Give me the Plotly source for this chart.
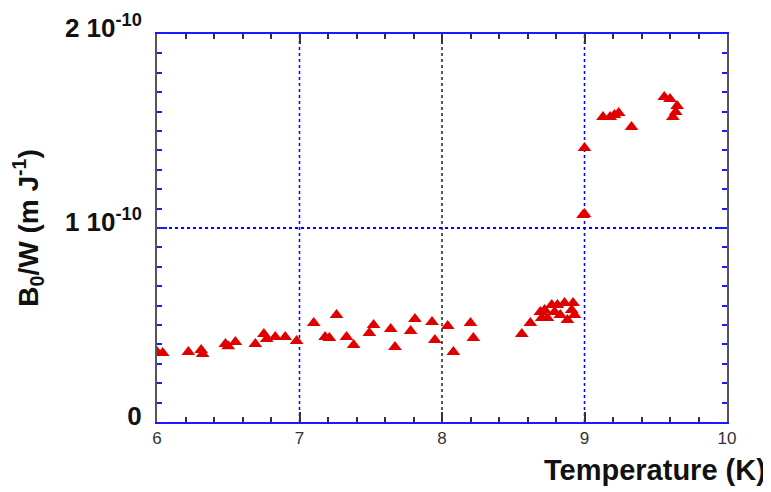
import plotly.graph_objects as go

# Data (temperature in K, B0/W in m J^-1)
temperature = [6.00, 6.04, 6.22, 6.31, 6.32, 6.48, 6.50, 6.55, 6.69, 6.75, 6.77, 6.83, 6.90, 6.98,
               7.10, 7.26, 7.18, 7.21, 7.33, 7.38, 7.52, 7.49, 7.64, 7.67, 7.81, 7.78, 7.93, 7.95,
               8.04, 8.08, 8.20, 8.22, 8.56, 8.62,
               8.69, 8.70, 8.72, 8.74, 8.77, 8.79, 8.81, 8.83, 8.86, 8.88, 8.91, 8.92, 8.93,
               9.00, 8.99, 9.00, 9.13, 9.18, 9.21, 9.24, 9.33, 9.56, 9.60, 9.65, 9.64, 9.62]
b0_over_w_e10 = [0.361, 0.356, 0.361, 0.371, 0.351, 0.402, 0.390, 0.412, 0.402, 0.454, 0.428, 0.438, 0.438, 0.418,
                 0.510, 0.552, 0.438, 0.433, 0.438, 0.397, 0.500, 0.459, 0.479, 0.387, 0.531, 0.469, 0.515, 0.423,
                 0.495, 0.361, 0.510, 0.433, 0.454, 0.510,
                 0.567, 0.536, 0.577, 0.536, 0.603, 0.567, 0.603, 0.552, 0.613, 0.526, 0.577, 0.613, 0.552,
                 1.412, 1.067, 1.072, 1.572, 1.572, 1.582, 1.593, 1.521, 1.675, 1.665, 1.629, 1.598, 1.572]
b0_over_w = [v * 1e-10 for v in b0_over_w_e10]

x_ticks = [6, 7, 8, 9, 10]
x_ticktext = ["6", "7", "8", "9", "10"]
y_ticks = [0, 1e-10, 2e-10]
y_ticktext = ["0", "1 10<sup>-10</sup>", "2 10<sup>-10</sup>"]
blue_grid_x = [7, 9]
black_grid_x = 8

fig = go.Figure()
fig.add_trace(go.Scatter(
    x=temperature, y=b0_over_w, mode="markers",
    marker=dict(symbol="triangle-up", size=12, color="#e00000", line=dict(width=0)),
    showlegend=False,
))

for gx in blue_grid_x:
    fig.add_shape(type="line", xref="x", yref="paper", x0=gx, x1=gx, y0=0, y1=1,
                  line=dict(color="#0000ff", width=1.5, dash="dot"), layer="below")
fig.add_shape(type="line", xref="x", yref="paper", x0=black_grid_x, x1=black_grid_x, y0=0, y1=1,
              line=dict(color="#222222", width=1.5, dash="dot"), layer="below")

fig.update_layout(
    width=763, height=484,
    margin=dict(l=149, r=44, t=26, b=70),
    paper_bgcolor="white", plot_bgcolor="white",
    font=dict(family="Liberation Sans, Arial, sans-serif"),
    xaxis=dict(
        range=[6, 10], tickvals=x_ticks, ticktext=x_ticktext, automargin=False,
        showgrid=False,
        showline=True, linecolor="#1a1aff", linewidth=2, mirror="ticks",
        ticks="inside", ticklen=10, tickcolor="#333333", tickwidth=1.5,
        minor=dict(dtick=0.2, ticks="inside", ticklen=5, tickcolor="#333333", tickwidth=1.5, showgrid=False),
        tickfont=dict(size=17, color="#333333"),
        zeroline=False,
    ),
    yaxis=dict(
        range=[0, 2e-10], tickvals=y_ticks, ticktext=y_ticktext, automargin=False,
        showgrid=True, gridcolor="#0000ff", griddash="dot", gridwidth=1.5,
        showline=True, linecolor="#555555", linewidth=2, mirror="ticks",
        ticks="inside", ticklen=10, tickcolor="#1a1aff", tickwidth=1.5,
        minor=dict(dtick=1e-11, ticks="inside", ticklen=5, tickcolor="#1a1aff", tickwidth=1.5, showgrid=False),
        tickfont=dict(size=26, color="#111111", family="Liberation Sans, Arial, sans-serif", weight="bold"),
        ticklabelstandoff=8, ticklabelshift=-6,
        zeroline=False,
        title=dict(text="<b>B<sub>0</sub>/W (m J<sup>-1</sup>)</b>", font=dict(size=28, color="#111111"), standoff=18),
    ),
    annotations=[dict(
        text="<b>Temperature (K)</b>", xref="paper", yref="paper", x=1.072, y=-0.124,
        xanchor="right", yanchor="middle", showarrow=False,
        font=dict(size=29, color="#111111"),
    )],
)

fig.write_html("out.html")
